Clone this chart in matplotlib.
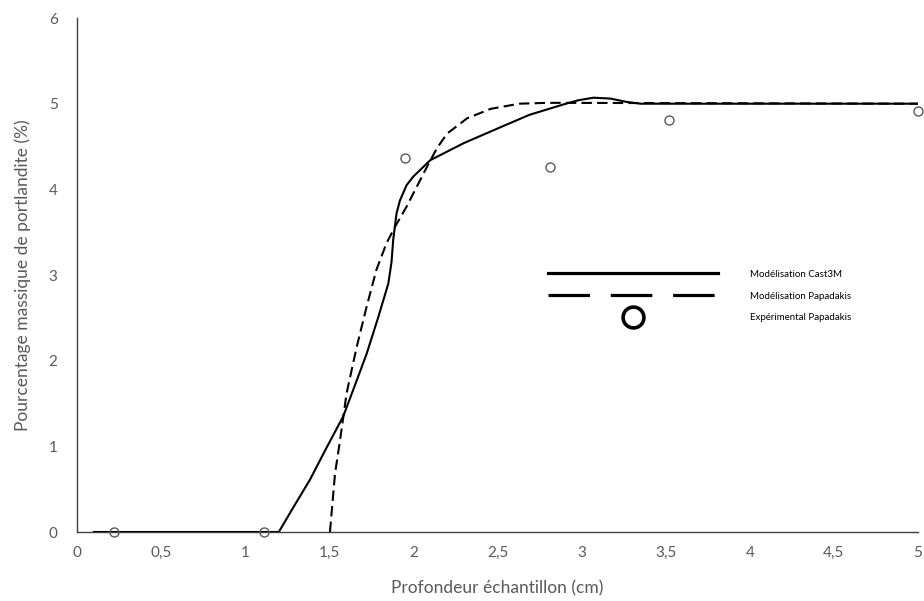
import matplotlib.pyplot as plt
from matplotlib.lines import Line2D
from matplotlib.ticker import FuncFormatter

# Modélisation Cast3M (solid)
x_cast = [0.1, 1.2, 1.29, 1.385, 1.48, 1.583, 1.65, 1.722, 1.79, 1.851, 1.87, 1.88,
          1.90, 1.92, 1.96, 2.0, 2.10, 2.30, 2.50, 2.69, 2.89, 2.98, 3.07, 3.17, 3.27, 3.35, 5.0]
y_cast = [0, 0, 0.30, 0.61, 0.97, 1.35, 1.70, 2.08, 2.50, 2.90, 3.15, 3.41,
          3.72, 3.87, 4.05, 4.15, 4.34, 4.54, 4.71, 4.87, 4.99, 5.04, 5.07, 5.06, 5.02, 5.0, 5.0]

# Modélisation Papadakis (dashed)
x_papa = [1.504, 1.534, 1.564, 1.603, 1.663, 1.722, 1.78, 1.84, 1.89, 1.96, 2.02, 2.08,
          2.14, 2.2, 2.32, 2.46, 2.63, 2.8, 5.0]
y_papa = [0, 0.68, 1.07, 1.62, 2.16, 2.63, 3.06, 3.37, 3.56, 3.80, 4.03, 4.26,
          4.48, 4.65, 4.83, 4.94, 5.0, 5.01, 5.0]

# Expérimental Papadakis (circles)
x_exp = [0.22, 1.11, 1.95, 2.81, 3.52, 5.0]
y_exp = [0, 0, 4.37, 4.26, 4.81, 4.91]

labels = ['Modélisation Cast3M', 'Modélisation Papadakis', 'Expérimental Papadakis']

plt.rcParams['font.family'] = ['Lato', 'DejaVu Sans']
fig = plt.figure(figsize=(9.24, 6.01), dpi=100)
ax = fig.add_axes([0.0833, 0.1148, 0.9102, 0.8552])

ax.plot(x_cast, y_cast, color='black', lw=1.5, zorder=3)
ax.plot(x_papa, y_papa, color='black', lw=1.5, dashes=(5, 2.5), zorder=3)
ax.plot(x_exp, y_exp, ls='none', marker='o', ms=6.5, mfc='none', mec='#595959', mew=1.0,
        zorder=4, clip_on=False)

ax.set_xlim(0, 5)
ax.set_ylim(0, 6)
ax.set_xticks([0, 0.5, 1, 1.5, 2, 2.5, 3, 3.5, 4, 4.5, 5])
ax.set_yticks([0, 1, 2, 3, 4, 5, 6])
fmt = FuncFormatter(lambda v, p: ('%g' % v).replace('.', ','))
ax.xaxis.set_major_formatter(fmt)
ax.yaxis.set_major_formatter(fmt)
ax.tick_params(length=0, labelsize=11, labelcolor='#595959', pad=10)
ax.tick_params(axis='y', pad=14)
for s in ['top', 'right']:
    ax.spines[s].set_visible(False)
for s in ['left', 'bottom']:
    ax.spines[s].set_color('#404040')
    ax.spines[s].set_linewidth(1.0)

ax.set_xlabel('Profondeur échantillon (cm)', fontsize=12.5, color='#595959', labelpad=15)
ax.set_ylabel('Pourcentage massique de portlandite (%)', fontsize=12.5, color='#595959', labelpad=13)

handles = [
    Line2D([], [], color='black', lw=2.3),
    Line2D([], [], color='black', lw=2.3, dashes=(13, 6.5)),
    Line2D([], [], ls='none', marker='o', ms=15, mfc='none', mec='black', mew=2.6),
]
ax.legend(handles, labels, loc='upper left', bbox_to_anchor=(0.55, 0.527), frameon=False,
          fontsize=7, handlelength=17.5, handletextpad=3.2, labelspacing=1.3, markerscale=1)

fig.savefig('out.png', dpi=100)
